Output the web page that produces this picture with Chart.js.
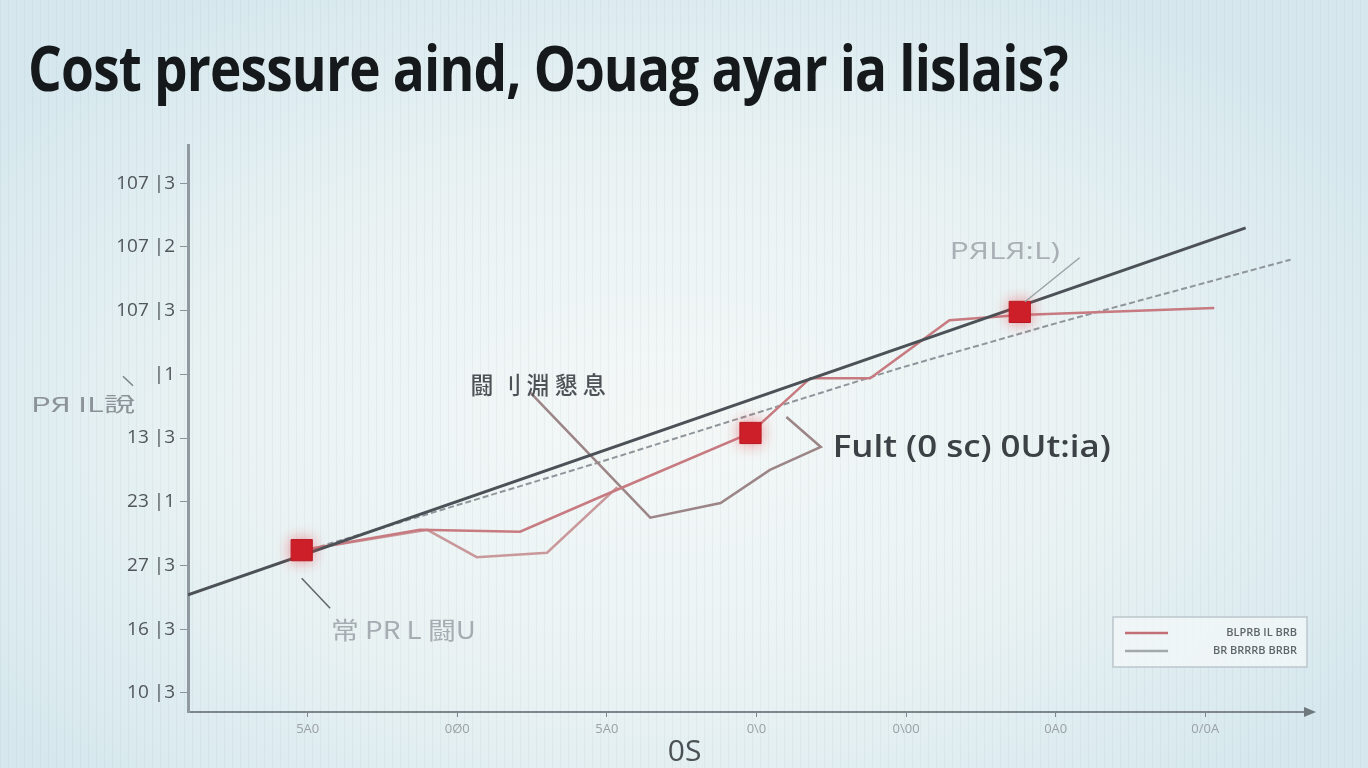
<!DOCTYPE html>
<html>
<head>
<meta charset="utf-8">
<script src="https://cdn.jsdelivr.net/npm/chart.js@4.4.1/dist/chart.umd.min.js"></script>
<style>
  html, body { margin: 0; padding: 0; }
  body {
    width: 1368px; height: 768px; overflow: hidden; position: relative;
    background:
      repeating-linear-gradient(90deg, rgba(150,175,185,0.11) 0 1px, transparent 1px 8px),
      radial-gradient(ellipse 60% 65% at 48% 55%, #f4f8f7 0%, #e9f2f3 55%, #d6e8ee 100%);
  }
  #title {
    position: absolute; left: 28px; top: 35px; margin: 0;
    font-family: "Open Sans", sans-serif; font-weight: 700; font-size: 63px;
    line-height: 1; color: #15191c; white-space: nowrap;
    transform-origin: left top; letter-spacing: -1px;
  }
  canvas { position: absolute; left: 0; top: 0; }
</style>
</head>
<body>
<h1 id="title">Cost pressure aind, O&#x254;uag ayar ia lislais?</h1>
<canvas id="costChart" width="1368" height="768"></canvas>
<script>
// axis ticks
const xTickValues = [8, 18, 28, 38, 48, 58, 68];
const xTickLabels = ['5A0', '0\u00d80', '5A0', '0\\0', '0\\00', '0A0', '0/0A'];
const yTickValues = [0, 1, 2, 3, 4, 5, 6, 7, 8];
const yTickLabels = ['10 |3', '16 |3', '27 |3', '23 |1', '13 |3', '|1', '107 |3', '107 |2', '107 |3'];

// series
const trendX = [0, 70.7];
const trendY = [1.54, 7.30];

const fcstX = [7.6, 27.5, 47.6, 58.3, 73.7];
const fcstY = [2.21, 3.62, 5.10, 5.82, 6.80];

const costX = [7.6, 15.5, 22.2, 27.9, 37.6, 41.6, 45.6, 50.9, 55.6, 68.6];
const costY = [2.24, 2.56, 2.53, 3.11, 4.08, 4.94, 4.94, 5.85, 5.93, 6.04];

const altX = [7.6, 16.0, 19.3, 24.0, 28.7];
const altY = [2.24, 2.56, 2.13, 2.20, 3.23];

const noteX = [22.9, 30.9, 35.6, 38.9, 42.3, 40.0];
const noteY = [4.71, 2.75, 2.98, 3.50, 3.86, 4.33];

const markerX = [7.6, 37.6, 55.6];
const markerY = [2.24, 4.08, 5.98];

const legendLabels = ['BLPRB IL BRB', 'BR BRRRB BRBR'];

function pts(xs, ys) {
    return xs.map((x, i) => ({ x: x, y: ys[i] }));
}

// squeeze the title to the width it has in the picture
const titleEl = document.getElementById('title');
titleEl.style.transform = 'scaleX(' + (1040 / titleEl.offsetWidth) + ')';

const markerGlow = {
    id: 'markerGlow',
    beforeDatasetDraw(chart, args) {
        if (args.index !== 0) return;
        chart.ctx.save();
        chart.ctx.shadowColor = 'rgba(235, 70, 80, 0.55)';
        chart.ctx.shadowBlur = 14;
    },
    afterDatasetDraw(chart, args) {
        if (args.index !== 0) return;
        chart.ctx.restore();
    }
};

const notes = {
    id: 'notes',
    afterDraw(chart) {
        const ctx = chart.ctx;
        const xs = chart.scales.x;
        const ys = chart.scales.y;
        const area = chart.chartArea;
        const X = v => xs.getPixelForValue(v);
        const Y = v => ys.getPixelForValue(v);

        function line(x1, y1, x2, y2, color, w) {
            ctx.beginPath();
            ctx.moveTo(x1, y1);
            ctx.lineTo(x2, y2);
            ctx.strokeStyle = color;
            ctx.lineWidth = w;
            ctx.stroke();
        }
        // fit = width in px the text should take (stretched or squeezed)
        function text(str, x, y, font, color, align, fit) {
            ctx.save();
            ctx.font = font;
            ctx.fillStyle = color;
            ctx.textAlign = align || 'center';
            ctx.textBaseline = 'middle';
            if (fit) {
                const k = fit / ctx.measureText(str).width;
                ctx.translate(x, y);
                ctx.scale(k, 1);
                ctx.fillText(str, 0, 0);
            } else {
                ctx.fillText(str, x, y);
            }
            ctx.restore();
        }

        ctx.save();

        // arrow at the end of the x axis
        ctx.beginPath();
        ctx.moveTo(area.right + 6, area.bottom);
        ctx.lineTo(area.right - 6, area.bottom - 5);
        ctx.lineTo(area.right - 6, area.bottom + 5);
        ctx.closePath();
        ctx.fillStyle = '#6f787e';
        ctx.fill();

        // axis title
        text('0S', X(33.2), area.bottom + 40, '30px "Open Sans"', '#4a5055');

        // callouts
        text('\u95d8 \u5202 \u6df5 \u61c7 \u606f', X(23.4), Y(4.83), '500 24px "Noto Sans CJK JP"', '#4d5257', 'center', 135);
        text('Fult (0 sc) 0Ut:ia)', X(43.1), Y(3.83), '600 30px "Open Sans"', '#3c4146', 'left', 278);

        line(X(59.6), Y(6.83), X(55.95), Y(6.14), '#9aa3a8', 1.5);
        text('P\u042fL\u042f:L)', X(54.6), Y(6.92), '24px "Open Sans"', '#a9b0b5', 'center', 110);

        line(X(7.6), Y(1.80), X(9.5), Y(1.33), '#5d646a', 1.5);
        text('\u5e38 PR L \u95d8U', X(14.4), Y(0.99), '24px "Noto Sans CJK JP"', '#a6adb2', 'center', 145);

        line(area.left - 65, Y(4.97), area.left - 55, Y(4.82), '#7a8287', 1.5);
        text('P\u042f IL\u8aaa', area.left - 105, Y(4.53), '20px "Noto Sans CJK JP"', '#8c9398', 'center', 104);

        // legend box
        const lx = area.right - 197, ly = area.bottom - 95;
        ctx.fillStyle = 'rgba(244, 248, 248, 0.75)';
        ctx.fillRect(lx, ly, 194, 50);
        ctx.strokeStyle = '#bcc6cb';
        ctx.lineWidth = 1.5;
        ctx.strokeRect(lx, ly, 194, 50);
        line(lx + 12, ly + 16, lx + 55, ly + 16, '#c26f78', 2.5);
        line(lx + 12, ly + 34, lx + 55, ly + 34, '#a3a8ad', 2.5);
        text(legendLabels[0], lx + 184, ly + 16, '600 11px "Open Sans"', '#5f666b', 'right');
        text(legendLabels[1], lx + 184, ly + 34, '600 11px "Open Sans"', '#5f666b', 'right');

        ctx.restore();
    }
};

const ctx = document.getElementById('costChart').getContext('2d');
const costChart = new Chart(ctx, {
    type: 'line',
    data: {
        datasets: [{
            label: 'Markers',
            data: pts(markerX, markerY),
            showLine: false,
            pointStyle: 'rect',
            pointRadius: 15,
            backgroundColor: '#cc1f28',
            borderColor: '#b81a22',
            borderWidth: 1
        }, {
            label: 'Trend',
            data: pts(trendX, trendY),
            borderColor: '#4b5156',
            borderWidth: 3,
            pointRadius: 0
        }, {
            label: 'Cost',
            data: pts(costX, costY),
            borderColor: '#c77a80',
            borderWidth: 2.5,
            pointRadius: 0
        }, {
            label: 'Alt',
            data: pts(altX, altY),
            borderColor: '#c9989b',
            borderWidth: 2.5,
            pointRadius: 0
        }, {
            label: 'Note',
            data: pts(noteX, noteY),
            borderColor: '#9c8587',
            borderWidth: 2.5,
            pointRadius: 0
        }, {
            label: 'Forecast',
            data: pts(fcstX, fcstY),
            borderColor: '#8f969b',
            borderWidth: 2,
            borderDash: [6, 3],
            pointRadius: 0
        }]
    },
    options: {
        responsive: false,
        animation: false,
        devicePixelRatio: 1,
        layout: { padding: { top: 145, right: 58, left: 0, bottom: 0 } },
        plugins: {
            legend: { display: false },
            tooltip: { enabled: false }
        },
        scales: {
            x: {
                type: 'linear',
                min: 0,
                max: 75,
                afterBuildTicks: s => { s.ticks = xTickValues.map(v => ({ value: v })); },
                afterFit: s => { s.height = 56; },
                ticks: {
                    callback: (v, i) => xTickLabels[i],
                    color: '#9aa1a6',
                    font: { family: 'Open Sans', size: 13 },
                    padding: 4,
                    maxRotation: 0,
                    autoSkip: false
                },
                grid: { drawOnChartArea: false, tickLength: 5, tickColor: '#7d868c' },
                border: { color: '#7d868c', width: 2 }
            },
            y: {
                type: 'linear',
                min: -0.3,
                max: 8.6,
                afterBuildTicks: s => { s.ticks = yTickValues.map(v => ({ value: v })); },
                afterFit: s => { s.width = 188; },
                ticks: {
                    callback: (v, i) => yTickLabels[i],
                    color: '#50565b',
                    font: { family: 'Open Sans', size: 19 },
                    padding: 5,
                    autoSkip: false
                },
                grid: { drawOnChartArea: false, tickLength: 8, tickColor: '#8a949a' },
                border: { color: '#8f999f', width: 3 }
            }
        }
    },
    plugins: [markerGlow, notes]
});
</script>
</body>
</html>
